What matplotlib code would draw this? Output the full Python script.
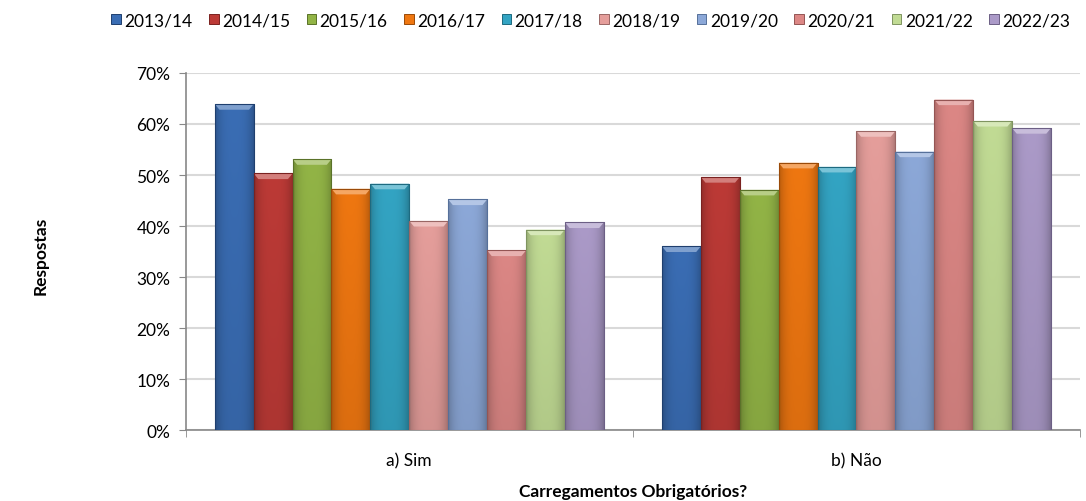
import matplotlib
matplotlib.use("Agg")
import matplotlib.pyplot as plt
import numpy as np
from matplotlib.ticker import PercentFormatter, FixedLocator
from matplotlib.colors import to_rgb
from matplotlib.patches import Polygon

categories = ["a) Sim", "b) Não"]
seasons = ["2013/14", "2014/15", "2015/16", "2016/17", "2017/18",
           "2018/19", "2019/20", "2020/21", "2021/22", "2022/23"]
sim = [63.9, 50.3, 53.1, 47.3, 48.3, 41.0, 45.2, 35.2, 39.3, 40.7]
nao = [36.0, 49.6, 47.1, 52.4, 51.6, 58.6, 54.6, 64.8, 60.6, 59.2]
colors = ["#3A6DB4", "#BC3A36", "#92B446", "#EF7711", "#33A4C3",
          "#E59E9B", "#8CA8D8", "#DC8785", "#C1DB94", "#AB9AC8"]
edges = ["#1F3F6E", "#7A2220", "#5A7229", "#9A4A08", "#1D6A80",
         "#9A6664", "#56709A", "#945554", "#7F9460", "#6C5F85"]

plt.rcParams['font.family'] = ['Lato', 'DejaVu Sans']

fig = plt.figure(figsize=(10.86, 5.02), dpi=100)
ax = fig.add_axes([0.171, 0.1414, 0.8235, 0.7112])
ax.set_xlim(-0.5, 1.5)
ax.set_ylim(0, 70)

n = len(seasons)
group_w = 0.87
bw = group_w / n
x = np.arange(len(categories))
handles = []
u = np.linspace(0, 1, 64)
hfac = 1.0 - 0.22 * np.abs(2 * u - 1) ** 3
bevel = 1.1  # bevel height in data units
for i, s in enumerate(seasons):
    vals = [sim[i], nao[i]]
    pos = x - group_w / 2 + bw * (i + 0.5)
    b = ax.bar(pos, vals, width=bw, color=colors[i], edgecolor=edges[i],
               linewidth=0.7, label=s, zorder=3)
    handles.append(b)
    base = np.array(to_rgb(colors[i]))
    for p in b.patches:
        x0, y0 = p.get_x(), p.get_y()
        w, h = p.get_width(), p.get_height()
        v = np.linspace(0, 1, 64)
        vfac = 0.92 + 0.08 * v
        img = np.clip(base[None, None, :] * hfac[None, :, None] * vfac[:, None, None], 0, 1)
        im = ax.imshow(img, extent=(x0, x0 + w, y0, y0 + h), origin='lower',
                       aspect='auto', zorder=3.5, interpolation='bilinear')
        im.set_clip_path(p)
        light = np.clip(base + (1 - base) * 0.35, 0, 1)
        ins = w * 0.12
        poly = Polygon([(x0, y0 + h), (x0 + w, y0 + h),
                        (x0 + w - ins, y0 + h - bevel), (x0 + ins, y0 + h - bevel)],
                       closed=True, facecolor=light, edgecolor='none', zorder=3.6)
        ax.add_patch(poly)
        ax.add_patch(plt.Rectangle((x0, y0), w, h, fill=False, edgecolor=edges[i],
                                   linewidth=0.8, zorder=3.7))

ax.set_xlim(-0.5, 1.5)
ax.set_ylim(0, 70)
ax.yaxis.set_major_locator(FixedLocator(np.arange(0, 71, 10)))
ax.yaxis.set_major_formatter(PercentFormatter(decimals=0))
ax.grid(axis='y', color='#D9D9D9', linewidth=1.5, zorder=0)
ax.set_xticks(x)
ax.set_xticklabels(categories, fontsize=12.5)
ax.set_xticks([-0.5, 0.5, 1.5], minor=True)
ax.tick_params(axis='x', which='major', length=0, pad=16)
ax.tick_params(axis='x', which='minor', length=5, color='#888888')
ax.tick_params(axis='y', length=5, color='#888888', labelsize=12.5, pad=6)
for sp in ['top', 'right']:
    ax.spines[sp].set_visible(False)
for sp in ['left', 'bottom']:
    ax.spines[sp].set_color('#888888')
    ax.spines[sp].set_linewidth(1.2)

fig.text(0.583, 0.02, "Carregamentos Obrigatórios?", fontsize=12.5, fontweight='bold',
         ha='center', va='center')
fig.text(0.037, 0.49, "Respostas", rotation=90, fontsize=12.5, fontweight='bold',
         ha='center', va='center')

fig.legend(handles=handles, labels=seasons, loc='upper center', ncol=10,
           bbox_to_anchor=(0.544, 1.005), frameon=False, fontsize=12.5,
           handlelength=0.55, handleheight=0.55, handletextpad=0.2,
           columnspacing=0.95)

fig.savefig("out.png", dpi=100)
